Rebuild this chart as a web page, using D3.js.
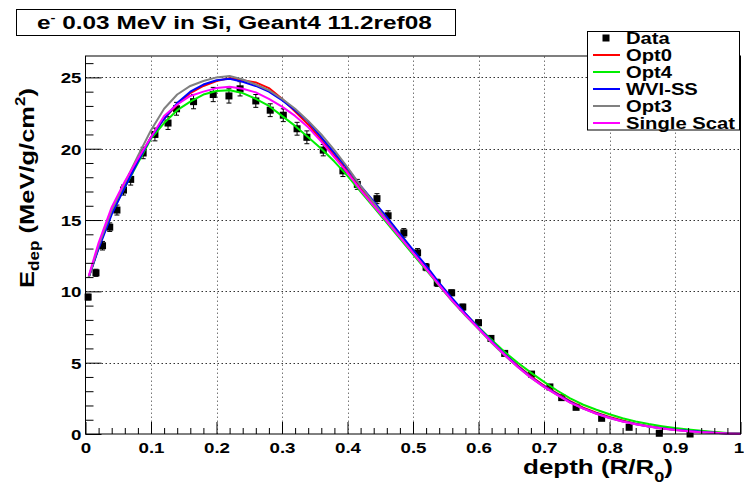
<!DOCTYPE html>
<html><head><meta charset="utf-8">
<script src="https://cdn.jsdelivr.net/npm/d3@7"></script>
<style>
body{margin:0;background:#fff}
svg{display:block}
text{font-family:"Liberation Sans",Arial,Helvetica,sans-serif;font-weight:bold;fill:#000}
</style>
</head><body>
<svg id="c" width="744" height="485"></svg>
<script>
// ---------- data ----------
const titleText = " 0.03 MeV in Si, Geant4 11.2ref08";
const seriesNames = ["Opt0", "Opt4", "WVI-SS", "Opt3", "Single Scat"];
const seriesColors = ["#ff0000", "#00ee00", "#0000ff", "#808080", "#ff00ff"];

const depth = [0.005,0.02,0.04,0.06,0.08,0.10,0.12,0.14,0.16,0.18,0.20,0.22,0.24,0.26,0.28,0.30,0.32,0.34,0.36,0.38,0.40,0.42,0.44,0.46,0.48,0.50,0.52,0.54,0.56,0.58,0.60,0.62,0.64,0.66,0.68,0.70,0.72,0.74,0.76,0.78,0.80,0.82,0.84,0.86,0.88,0.90,0.92,0.94,0.96,0.98,1.00];

const opt0 = [11.0,13.1,15.6,17.4,19.2,20.8,22.1,23.1,23.9,24.4,24.75,24.95,24.8,24.65,24.25,23.5,22.6,21.7,20.6,19.5,18.4,17.2,16.1,15.0,13.9,12.75,11.65,10.5,9.4,8.4,7.45,6.5,5.6,4.8,4.05,3.4,2.85,2.3,1.85,1.5,1.2,0.95,0.72,0.55,0.42,0.32,0.25,0.17,0.1,0.05,0.02];
const opt4 = [11.0,13.1,15.5,17.3,19.0,20.7,21.8,22.7,23.3,23.8,24.05,24.1,23.9,23.5,23.0,22.3,21.6,20.8,20.0,19.1,18.1,17.0,15.9,14.8,13.7,12.6,11.5,10.4,9.35,8.4,7.5,6.6,5.75,5.0,4.3,3.65,3.05,2.5,2.05,1.7,1.38,1.1,0.88,0.7,0.55,0.42,0.32,0.22,0.14,0.07,0.03];
const wviss = [11.0,13.0,15.4,17.3,19.1,20.8,22.1,23.2,24.0,24.5,24.8,24.9,24.7,24.4,24.0,23.4,22.7,21.9,20.8,19.7,18.6,17.4,16.3,15.2,14.05,12.9,11.8,10.6,9.5,8.45,7.45,6.5,5.6,4.75,4.0,3.35,2.8,2.25,1.8,1.45,1.15,0.9,0.7,0.53,0.4,0.3,0.22,0.15,0.09,0.04,0.02];
const opt3 = [11.0,13.2,15.7,17.6,19.5,21.3,22.8,23.8,24.4,24.75,25.0,25.1,24.85,24.5,24.1,23.5,22.8,21.95,21.0,19.9,18.7,17.4,16.2,15.0,13.85,12.7,11.55,10.4,9.3,8.3,7.35,6.4,5.5,4.7,3.95,3.3,2.75,2.2,1.78,1.42,1.12,0.88,0.68,0.52,0.38,0.28,0.2,0.13,0.08,0.04,0.02];
const singleScat = [11.1,13.4,15.9,17.7,19.3,20.8,22.3,23.1,23.7,24.0,24.25,24.35,24.2,23.95,23.5,22.95,22.3,21.5,20.5,19.4,18.3,17.1,16.0,14.9,13.8,12.7,11.6,10.45,9.35,8.35,7.4,6.45,5.55,4.7,3.95,3.3,2.75,2.2,1.78,1.42,1.12,0.88,0.68,0.52,0.38,0.28,0.2,0.13,0.08,0.04,0.02];

const dataX = [0.004,0.016,0.026,0.037,0.048,0.058,0.069,0.088,0.106,0.126,0.139,0.165,0.195,0.219,0.236,0.26,0.282,0.302,0.323,0.338,0.363,0.393,0.415,0.445,0.462,0.486,0.507,0.52,0.537,0.559,0.576,0.6,0.619,0.64,0.681,0.709,0.727,0.749,0.788,0.83,0.876,0.923];
const dataY = [9.6,11.3,13.2,14.5,15.7,17.1,17.85,19.7,21.0,21.8,22.8,23.3,23.8,23.7,24.2,23.35,22.7,22.35,21.4,20.8,19.9,18.45,17.5,16.5,15.3,14.1,12.7,11.7,10.6,9.9,8.9,7.8,6.7,5.65,4.2,3.3,2.55,1.87,1.1,0.47,0.05,0.0];
const dataErr = [0.2,0.25,0.3,0.3,0.35,0.35,0.4,0.4,0.45,0.45,0.45,0.5,0.5,0.5,0.5,0.45,0.45,0.45,0.45,0.45,0.4,0.4,0.35,0.35,0.35,0.3,0.3,0.25,0.25,0.2,0.2,0.2,0.15,0.15,0.1,0.1,0.1,0.08,0.05,0.05,0.03,0.02];

const xMajorTicks = [0,0.1,0.2,0.3,0.4,0.5,0.6,0.7,0.8,0.9,1];
const xTickLabels = ["0","0.1","0.2","0.3","0.4","0.5","0.6","0.7","0.8","0.9","1"];
const yMajorTicks = [0,5,10,15,20,25];
const yTickLabels = ["0","5","10","15","20","25"];
const xMinorTicks = [0.02,0.04,0.06,0.08,0.12,0.14,0.16,0.18,0.22,0.24,0.26,0.28,0.32,0.34,0.36,0.38,0.42,0.44,0.46,0.48,0.52,0.54,0.56,0.58,0.62,0.64,0.66,0.68,0.72,0.74,0.76,0.78,0.82,0.84,0.86,0.88,0.92,0.94,0.96,0.98];
const yMinorTicks = [1,2,3,4,6,7,8,9,11,12,13,14,16,17,18,19,21,22,23,24,26];

// ---------- chart ----------
const series = [opt0, opt4, wviss, opt3, singleScat];
const svg = d3.select("#c");
const x = d3.scaleLinear().domain([0, 1]).range([85.5, 740.5]);
const y = d3.scaleLinear().domain([0, 26.5]).range([434, 56]);
const SX = 1.25; // horizontal stretch of glyphs

// grid
const grid = svg.append("g");
grid.selectAll("line.h").data(yMajorTicks.filter(v => v > 0)).join("line")
  .attr("x1", x(0)).attr("x2", x(1)).attr("y1", d => Math.round(y(d)) + 0.5).attr("y2", d => Math.round(y(d)) + 0.5)
  .attr("stroke", "#333").attr("stroke-width", 1).attr("stroke-dasharray", "1.5,2.5");
grid.selectAll("line.v").data(xMajorTicks.filter(v => v > 0 && v < 1)).join("line")
  .attr("x1", d => Math.round(x(d)) + 0.5).attr("x2", d => Math.round(x(d)) + 0.5).attr("y1", y(0)).attr("y2", y(26.5))
  .attr("stroke", "#777").attr("stroke-width", 1).attr("stroke-dasharray", "1.5,2.5");

// data points with errors (drawn under curves)
const pts = svg.append("g");
dataX.forEach((dx, i) => {
  const px = x(dx), py = y(dataY[i]);
  const lo = y(dataY[i] - dataErr[i]), hi = y(dataY[i] + dataErr[i]);
  pts.append("line").attr("x1", px).attr("x2", px).attr("y1", lo).attr("y2", hi).attr("stroke", "#000").attr("stroke-width", 1);
  pts.append("line").attr("x1", px - 2.5).attr("x2", px + 2.5).attr("y1", lo).attr("y2", lo).attr("stroke", "#000");
  pts.append("line").attr("x1", px - 2.5).attr("x2", px + 2.5).attr("y1", hi).attr("y2", hi).attr("stroke", "#000");
  pts.append("rect").attr("x", px - 3.5).attr("y", py - 3.5).attr("width", 7).attr("height", 7).attr("fill", "#000");
});

// curves
const line = d3.line().x((d, i) => x(depth[i])).y(d => y(d));
series.forEach((s, k) => {
  svg.append("path").datum(s).attr("d", line).attr("fill", "none")
    .attr("stroke", seriesColors[k]).attr("stroke-width", 2).attr("stroke-linejoin", "round");
});

// axes
const yAx = svg.append("g").attr("transform", `translate(${x(0)},0)`)
  .call(d3.axisLeft(y).tickValues(yMajorTicks).tickSize(-16).tickFormat((d, i) => yTickLabels[i]));
const yMin = svg.append("g").attr("transform", `translate(${x(0)},0)`)
  .call(d3.axisLeft(y).tickValues(yMinorTicks).tickSize(-8).tickFormat(""));
const xAx = svg.append("g").attr("transform", `translate(0,${y(0)})`)
  .call(d3.axisBottom(x).tickValues(xMajorTicks).tickSize(-12).tickFormat((d, i) => xTickLabels[i]));
const xMin = svg.append("g").attr("transform", `translate(0,${y(0)})`)
  .call(d3.axisBottom(x).tickValues(xMinorTicks).tickSize(-6).tickFormat(""));
[yAx, yMin, xAx, xMin].forEach(a => { a.select(".domain").remove(); a.selectAll("line").attr("stroke", "#000"); a.attr("font-family", null); });
yAx.selectAll("text").attr("x", null).attr("dy", null).attr("fill", "#000")
  .attr("font-size", 15).attr("text-anchor", "end")
  .attr("transform", `translate(-4,5.5) scale(${SX},1)`);
xAx.selectAll("text").attr("y", null).attr("dy", null).attr("fill", "#000")
  .attr("font-size", 15).attr("text-anchor", "middle")
  .attr("transform", (d, i) => `translate(${i === xMajorTicks.length - 1 ? -2 : 0},18.5) scale(${SX},1)`);

// frame
svg.append("rect").attr("x", x(0)).attr("y", y(26.5)).attr("width", x(1) - x(0)).attr("height", y(0) - y(26.5))
  .attr("fill", "none").attr("stroke", "#000").attr("stroke-width", 1);

// axis titles
const xt = svg.append("text").attr("font-size", 20).attr("text-anchor", "end");
xt.append("tspan").text("depth (R/R");
xt.append("tspan").attr("font-size", 14).attr("dy", 8).text("0");
xt.append("tspan").attr("dy", -8).text(")");
xt.attr("transform", `translate(673,473.5) scale(${150 / xt.node().getComputedTextLength()},1)`);

const yt = svg.append("text").attr("font-size", 21).attr("text-anchor", "end");
yt.append("tspan").text("E");
yt.append("tspan").attr("font-size", 14).attr("dy", 5).text("dep");
yt.append("tspan").attr("dy", -5).text(" (MeV/g/cm");
yt.append("tspan").attr("font-size", 14).attr("dy", -9).text("2");
yt.append("tspan").attr("dy", 9).text(")");
yt.attr("transform", `translate(34,88) rotate(-90) scale(${200 / yt.node().getComputedTextLength()},1)`);

// title box
svg.append("rect").attr("x", 16.5).attr("y", 9.5).attr("width", 439).attr("height", 26)
  .attr("fill", "#fff").attr("stroke", "#000");
const tt = svg.append("text").attr("font-size", 18);
tt.append("tspan").text("e");
tt.append("tspan").attr("font-size", 11).attr("dy", -8).text("-");
tt.append("tspan").attr("dy", 8).text(titleText);
tt.attr("transform", `translate(37,28.5) scale(${395 / tt.node().getComputedTextLength()},1)`);

// legend
const lg = svg.append("g");
lg.append("rect").attr("x", 587.5).attr("y", 31.5).attr("width", 152).attr("height", 98.5)
  .attr("fill", "#fff").attr("stroke", "#000");
const legNames = ["Data"].concat(seriesNames);
const rowY = legNames.map((n, i) => 38 + i * 17);
lg.append("rect").attr("x", 606 - 3.5).attr("y", rowY[0] - 3.5).attr("width", 7).attr("height", 7).attr("fill", "#000");
seriesNames.forEach((n, k) => {
  lg.append("line").attr("x1", 593).attr("x2", 620).attr("y1", rowY[k + 1]).attr("y2", rowY[k + 1])
    .attr("stroke", seriesColors[k]).attr("stroke-width", 2);
});
const texts = legNames.map((n, i) => lg.append("text").attr("font-size", 16.5).text(n));
const lsx = 109 / texts[5].node().getComputedTextLength();
texts.forEach((t, i) => t.attr("transform", `translate(626,${rowY[i] + 6}) scale(${lsx},1)`));
</script>
</body></html>
